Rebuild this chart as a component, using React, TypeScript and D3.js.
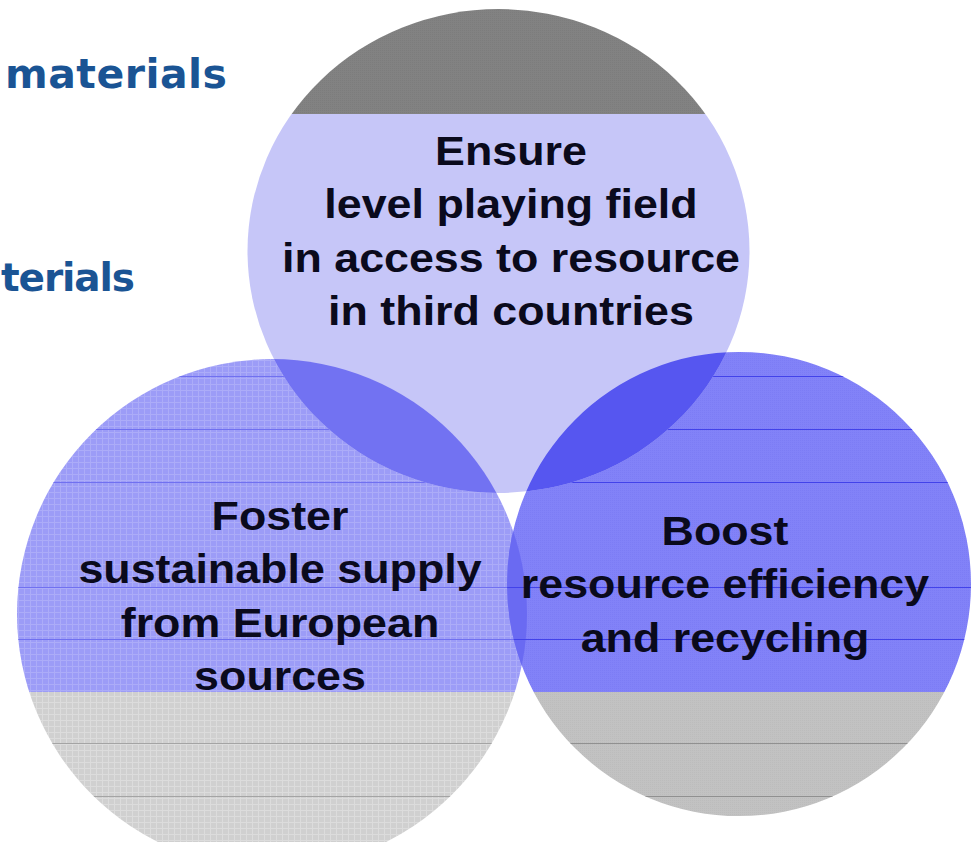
import React from 'react';
import * as d3 from 'd3';

// ---- Data (labels of the three sets and the heading fragments) ----
const topLabel = ['Ensure', 'level playing field', 'in access to resource', 'in third countries'];
const leftLabel = ['Foster', 'sustainable supply', 'from European', 'sources'];
const rightLabel = ['Boost', 'resource efficiency', 'and recycling'];
const headingFragments = ['materials', 'terials'];

// ---- Layout ----
const W = 972;
const H = 842;
const TOP = { cx: 498.5, cy: 251, rx: 251, ry: 242 };
const LEFT = { cx: 272, cy: 614, r: 255 };
const RIGHT = { cx: 739, cy: 584, r: 232 };
const GRAY_TOP_Y = 114;
const GRAY_BOTTOM_Y = 692;
const STRIPE_Y = [376, 429, 482, 587, 639, 743, 796];

const LINE_H = 53.3;
const X_STRETCH = 1.12;

function circlePath(cx: number, cy: number, r: number) {
  const p = d3.path();
  p.moveTo(cx + r, cy);
  p.arc(cx, cy, r, 0, 2 * Math.PI);
  p.closePath();
  return p.toString();
}
function ellipsePath(cx: number, cy: number, rx: number, ry: number) {
  return `M${cx - rx},${cy}a${rx},${ry} 0 1,0 ${2 * rx},0a${rx},${ry} 0 1,0 ${-2 * rx},0Z`;
}

const topPath = ellipsePath(TOP.cx, TOP.cy, TOP.rx, TOP.ry);
const leftPath = circlePath(LEFT.cx, LEFT.cy, LEFT.r);
const rightPath = circlePath(RIGHT.cx, RIGHT.cy, RIGHT.r);

function Label({ lines, cx, y0 }: { lines: string[]; cx: number; y0: number }) {
  const y = d3.scaleLinear().domain([0, 1]).range([y0, y0 + LINE_H]);
  return (
    <g>
      {lines.map((t, i) => (
        <g key={i} transform={`translate(${cx},${y(i)}) scale(${X_STRETCH},1)`}>
          <text
            textAnchor="middle"
            fontFamily="'Liberation Sans', Arial, sans-serif"
            fontWeight="bold"
            fontSize={40}
            fill="#0a0a1c"
          >
            {t}
          </text>
        </g>
      ))}
    </g>
  );
}

export default function App() {
  return (
    <div style={{ position: 'absolute', left: 0, top: 0, width: W, height: H, background: '#fff' }}>
      <svg width={W} height={H} style={{ display: 'block' }}>
        <defs>
          <clipPath id="cTop"><path d={topPath} /></clipPath>
          <clipPath id="cLeft"><path d={leftPath} /></clipPath>
          <clipPath id="cRight"><path d={rightPath} /></clipPath>
          <pattern id="pLeftBlue" width={6} height={6} patternUnits="userSpaceOnUse">
            <rect width={6} height={6} fill="#9c9cf7" />
            <rect x={0} width={1} height={6} fill="#acacf8" />
            <rect y={0} width={6} height={1} fill="#acacf8" />
          </pattern>
          <pattern id="pLeftGray" width={6} height={6} patternUnits="userSpaceOnUse">
            <rect width={6} height={6} fill="#d0d0d0" />
            <rect x={0} width={1} height={6} fill="#dcdcdc" />
            <rect y={0} width={6} height={1} fill="#dcdcdc" />
          </pattern>
          <pattern id="pRightBlue" width={2} height={2} patternUnits="userSpaceOnUse">
            <rect width={2} height={2} fill="#8282f8" />
            <rect width={1} height={1} fill="#7c7cf5" />
          </pattern>
          <pattern id="pRightGray" width={2} height={2} patternUnits="userSpaceOnUse">
            <rect width={2} height={2} fill="#c2c2c2" />
            <rect width={1} height={1} fill="#bcbcbc" />
          </pattern>
          <pattern id="pTopGray" width={2} height={2} patternUnits="userSpaceOnUse">
            <rect width={2} height={2} fill="#828282" />
            <rect width={1} height={1} fill="#7c7c7c" />
          </pattern>
        </defs>

        {/* heading fragments */}
        <text x={5} y={88} textLength={222} lengthAdjust="spacing"
          fontFamily="'DejaVu Sans', Verdana, sans-serif"
          fontWeight="bold" fontSize={41} fill="#1a5494">{headingFragments[0]}</text>
        <text x={1} y={291} textLength={134} lengthAdjust="spacing"
          fontFamily="'DejaVu Sans', Verdana, sans-serif"
          fontWeight="bold" fontSize={39} fill="#1a5494">{headingFragments[1]}</text>

        {/* left circle */}
        <g clipPath="url(#cLeft)">
          <rect x={0} y={0} width={W} height={GRAY_BOTTOM_Y} fill="url(#pLeftBlue)" />
          <rect x={0} y={GRAY_BOTTOM_Y} width={W} height={H - GRAY_BOTTOM_Y} fill="url(#pLeftGray)" />
        </g>
        {/* right circle */}
        <g clipPath="url(#cRight)">
          <rect x={0} y={0} width={W} height={GRAY_BOTTOM_Y} fill="url(#pRightBlue)" />
          <rect x={0} y={GRAY_BOTTOM_Y} width={W} height={H - GRAY_BOTTOM_Y} fill="url(#pRightGray)" />
        </g>
        {/* left ∩ right lens */}
        <g clipPath="url(#cLeft)">
          <path d={rightPath} fill="#6a6af2" />
        </g>
        {/* stripes */}
        <g clipPath="url(#cLeft)">
          {STRIPE_Y.map((y) => (
            <line key={y} x1={0} x2={W} y1={y + 0.5} y2={y + 0.5}
              stroke={y > GRAY_BOTTOM_Y ? '#a4a4a4' : '#7070f0'} strokeWidth={1} />
          ))}
        </g>
        <g clipPath="url(#cRight)">
          {STRIPE_Y.map((y) => (
            <line key={y} x1={0} x2={W} y1={y + 0.5} y2={y + 0.5}
              stroke={y > GRAY_BOTTOM_Y ? '#909090' : '#4242ea'} strokeWidth={1} />
          ))}
        </g>

        {/* top circle */}
        <g clipPath="url(#cTop)">
          <rect x={0} y={0} width={W} height={GRAY_TOP_Y} fill="url(#pTopGray)" />
          <rect x={0} y={GRAY_TOP_Y} width={W} height={H} fill="#c6c6f8" />
        </g>
        {/* top ∩ left, top ∩ right */}
        <g clipPath="url(#cTop)">
          <path d={leftPath} fill="#7272f2" />
          <path d={rightPath} fill="#5656f0" />
        </g>

        <Label lines={topLabel} cx={511} y0={165} />
        <Label lines={leftLabel} cx={280} y0={530} />
        <Label lines={rightLabel} cx={725} y0={545} />
      </svg>
    </div>
  );
}
